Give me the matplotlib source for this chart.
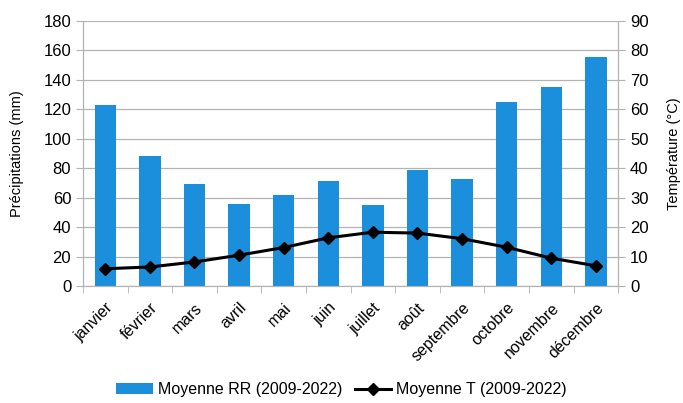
import matplotlib
matplotlib.use("Agg")
import matplotlib.pyplot as plt
import numpy as np

months = ["janvier", "février", "mars", "avril", "mai", "juin", "juillet",
          "août", "septembre", "octobre", "novembre", "décembre"]
rr = [122.7, 88.2, 69.3, 55.5, 61.6, 71.4, 55.2, 78.6, 72.7, 125.0, 135.5, 155.2]
temp = [5.9, 6.5, 8.2, 10.5, 13.1, 16.4, 18.3, 18.0, 16.1, 13.2, 9.5, 6.9]

plt.rcParams['font.family'] = ['Liberation Sans', 'DejaVu Sans']
fig = plt.figure(figsize=(6.83, 4.03), dpi=100)
ax = fig.add_axes([0.1215, 0.290, 0.7835, 0.658])
ax2 = ax.twinx()

x = np.arange(len(months))
gray = '#b3b3b3'
ax.set_axisbelow(True)
ax.yaxis.grid(True, color=gray, linewidth=0.9)
b = ax.bar(x, rr, width=0.48, color='#1c8fdc', label='Moyenne RR (2009-2022)', zorder=2)
l, = ax2.plot(x, temp, color='black', linewidth=2.2, marker='D', markersize=6,
              label='Moyenne T (2009-2022)', zorder=3)

ax.set_xlim(-0.5, len(months) - 0.5)
ax.set_ylim(0, 180)
ax.set_yticks(np.arange(0, 181, 20))
ax2.set_ylim(0, 90)
ax2.set_yticks(np.arange(0, 91, 10))

ax.set_xticks(x)
ax.set_xticklabels(months, rotation=45, ha='right', rotation_mode='anchor', fontsize=11.5)
ax.tick_params(axis='x', which='major', length=0, pad=10)
ax.set_xticks(np.arange(-0.5, len(months), 1), minor=True)
ax.tick_params(axis='x', which='minor', length=5, color=gray)

for a in (ax, ax2):
    for s in a.spines.values():
        s.set_color(gray)
    a.spines['top'].set_visible(False)
ax.tick_params(axis='y', labelsize=12, color=gray, length=5)
ax2.tick_params(axis='y', labelsize=12, color=gray, length=5)

ax.set_ylabel('Précipitations (mm)', fontsize=10.5, labelpad=14)
ax2.set_ylabel('Température (°C)', fontsize=10.5, labelpad=13)

fig.legend(handles=[b, l], loc='center', bbox_to_anchor=(0.5, 0.033), ncol=2,
           frameon=False, fontsize=11.5, handlelength=2.3, columnspacing=0.8,
           handletextpad=0.3)

fig.savefig('out.png', dpi=100)
